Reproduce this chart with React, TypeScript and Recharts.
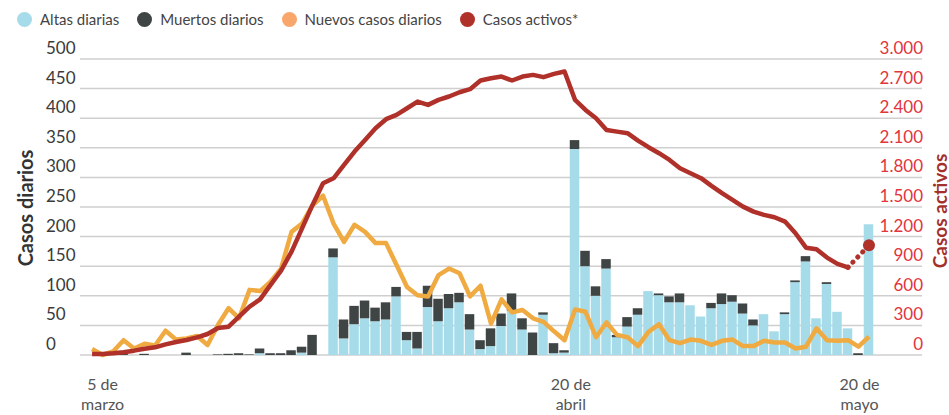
import React from "react";
import { ComposedChart, Bar, Line, XAxis, YAxis, CartesianGrid } from "recharts";

// one entry per day, starting on 5 March
const ALTAS = [
  0, 0, 0, 0, 0, 0, 0, 0, 0, 0, 0, 0, 0, 0, 0, 0, 3, 0, 0, 0, 4, 0, 0,
  165, 28, 52, 62, 57, 60, 99, 25, 11, 81, 57, 79, 89, 43, 10, 15, 49, 75, 43, 0, 68, 3, 4,
  348, 150, 100, 146, 30, 48, 68, 108, 101, 89, 89, 84, 65, 79, 86, 90, 70, 50, 69, 40, 69,
  123, 158, 62, 120, 73, 45, 0, 221,
];
const MUERTOS = [
  0, 0, 0, 2, 0, 2, 0, 0, 0, 4, 0, 0, 1, 2, 3, 1, 8, 3, 3, 8, 10, 34, 0,
  15, 32, 31, 30, 23, 29, 16, 14, 28, 36, 38, 24, 16, 26, 15, 30, 21, 29, 19, 38, 4, 17, 4,
  15, 26, 16, 16, 4, 16, 11, 0, 3, 10, 15, 0, 0, 9, 18, 11, 17, 10, 0, 0, 3,
  3, 9, 0, 3, 0, 0, 3, 0,
];
const NUEVOS = [
  10, 0, 6, 25, 11, 19, 16, 41, 26, 28, 32, 17, 51, 79, 62, 110, 108, 124, 146, 208, 222, 253, 269,
  222, 191, 220, 208, 189, 189, 152, 115, 101, 99, 135, 146, 138, 99, 117, 53, 94, 72, 76, 62, 56, 40, 25,
  77, 73, 30, 55, 34, 30, 15, 39, 52, 25, 20, 26, 24, 17, 24, 26, 15, 15, 24, 21, 21,
  11, 14, 45, 25, 24, 25, 14, 31,
];
const ACTIVOS = [
  10, 10, 17, 27, 44, 64, 78, 108, 132, 152, 179, 213, 274, 287, 389, 490, 564, 710, 855, 1048,
  1284, 1521, 1741, 1791, 1927, 2062, 2180, 2298, 2390, 2434, 2501, 2569, 2535, 2586, 2620, 2663,
  2694, 2782, 2805, 2822, 2782, 2822, 2839, 2816, 2849, 2873, 2586, 2484, 2400, 2281, 2264, 2248,
  2173, 2106, 2045, 1977, 1893, 1842, 1792, 1714, 1640, 1572, 1504, 1453, 1420, 1396, 1352, 1234,
  1088, 1072, 987, 923, 889,
];
// dotted stretch at the end of the active-cases line
const ACTIVOS_FIN_DIAS = [72, 74];
const ACTIVOS_FIN = [889, 1112];

// date labels sit roughly (not exactly) under their days in the original
const X_TICKS = [1, 45.6, 73.1];
const X_LABELS = [["5 de", "marzo"], ["20 de", "abril"], ["20 de", "mayo"]];
const LEFT_TICKS = [0, 50, 100, 150, 200, 250, 300, 350, 400, 450, 500];
const RIGHT_TICKS = [0, 300, 600, 900, 1200, 1500, 1800, 2100, 2400, 2700, 3000];

const C_ALTAS = "#a6dcea";
const C_MUERTOS = "#3f4445";
const C_NUEVOS = "#f0aa42";
const C_ACTIVOS = "#b0302a";
const FONT = "Lato, 'Open Sans', sans-serif";

const data = ALTAS.map((a, i) => {
  const fin = ACTIVOS_FIN_DIAS.indexOf(i);
  return {
    day: i,
    altas: a,
    muertos: MUERTOS[i],
    nuevos: NUEVOS[i],
    activos: i < ACTIVOS.length ? ACTIVOS[i] : null,
    activosFin: fin >= 0 ? ACTIVOS_FIN[fin] : null,
  };
});

const fmt = (v: number) => v.toLocaleString("de-DE");

const LeftTick = (props: any) => (
  <text x={props.x - 32} y={props.y - 5} textAnchor="start" fontSize={17} fill="#3a3a3a" fontFamily={FONT}>
    {props.payload.value}
  </text>
);

const RightTick = (props: any) => (
  <text x={props.x - 1} y={props.y - 5} textAnchor="end" fontSize={17} fill="#e2353c" fontFamily={FONT}>
    {fmt(props.payload.value)}
  </text>
);

const DateTick = (props: any) => {
  const idx = X_TICKS.indexOf(props.payload.value);
  const lines = X_LABELS[idx] ?? ["", ""];
  return (
    <text x={props.x} y={props.y + 33} textAnchor="middle" fontSize={16} fill="#555" fontFamily={FONT}>
      <tspan x={props.x}>{lines[0]}</tspan>
      <tspan x={props.x} dy={20}>{lines[1]}</tspan>
    </text>
  );
};

const FinDot = (props: any) => {
  const { cx, cy, index } = props;
  if (cx == null || cy == null || props.value == null) return <g key={index} />;
  const last = index === ACTIVOS_FIN_DIAS[ACTIVOS_FIN_DIAS.length - 1];
  return <circle key={index} cx={cx} cy={cy} r={last ? 6 : 2.5} fill={C_ACTIVOS} />;
};

const LEGEND = [
  { label: "Altas diarias", color: C_ALTAS },
  { label: "Muertos diarios", color: C_MUERTOS },
  { label: "Nuevos casos diarios", color: "#f8a66a" },
  { label: "Casos activos*", color: C_ACTIVOS },
];

export default function App() {
  return (
    <div style={{ position: "absolute", left: 0, top: 0, width: 949, height: 415, background: "#fff", fontFamily: FONT }}>
      <div style={{ position: "absolute", left: 17, top: 10, display: "flex", alignItems: "center", gap: 18 }}>
        {LEGEND.map((l) => (
          <div key={l.label} style={{ display: "flex", alignItems: "center", gap: 8 }}>
            <span style={{ width: 15, height: 15, borderRadius: "50%", background: l.color, display: "inline-block" }} />
            <span style={{ fontSize: 15, color: "#444" }}>{l.label}</span>
          </div>
        ))}
      </div>
      <div
        style={{
          position: "absolute", left: 25, top: 208, transform: "translate(-50%, -50%) rotate(-90deg)",
          whiteSpace: "nowrap", fontSize: 20, fontWeight: 700, color: "#333", lineHeight: "20px",
        }}
      >
        Casos diarios
      </div>
      <div
        style={{
          position: "absolute", left: 939, top: 211, transform: "translate(-50%, -50%) rotate(-90deg)",
          whiteSpace: "nowrap", fontSize: 19, fontWeight: 700, color: "#a3302a", lineHeight: "19px",
        }}
      >
        Casos activos
      </div>
      <ComposedChart
        width={949}
        height={415}
        data={data}
        margin={{ top: 59, right: 26, bottom: 59, left: 79 }}
        barGap={0}
      >
        <CartesianGrid vertical={false} stroke="#cfcfcf" strokeWidth={1.5} yAxisId="left" />
        <XAxis
          dataKey="day"
          type="number"
          domain={[-1.15, 79.05]}
          ticks={X_TICKS}
          height={1}
          axisLine={false}
          tickLine={false}
          tickSize={0}
          tick={DateTick}
          interval={0}
        />
        <YAxis
          yAxisId="left"
          domain={[0, 500]}
          ticks={LEFT_TICKS}
          width={1}
          axisLine={false}
          tickLine={false}
          tickSize={0}
          tick={LeftTick}
          interval={0}
        />
        <YAxis
          yAxisId="right"
          orientation="right"
          domain={[0, 3000]}
          ticks={RIGHT_TICKS}
          width={1}
          axisLine={false}
          tickLine={false}
          tickSize={0}
          tick={RightTick}
          interval={0}
        />
        <Bar yAxisId="left" dataKey="altas" stackId="d" fill={C_ALTAS} barSize={9.5} isAnimationActive={false} />
        <Bar yAxisId="left" dataKey="muertos" stackId="d" fill={C_MUERTOS} barSize={9.5} isAnimationActive={false} />
        <Line
          yAxisId="left"
          dataKey="nuevos"
          stroke={C_NUEVOS}
          strokeWidth={4.5}
          strokeLinejoin="round"
          dot={false}
          type="linear"
          isAnimationActive={false}
        />
        <Line
          yAxisId="right"
          dataKey="activos"
          stroke={C_ACTIVOS}
          strokeWidth={4.5}
          strokeLinejoin="round"
          dot={false}
          type="linear"
          isAnimationActive={false}
        />
        <Line
          yAxisId="right"
          dataKey="activosFin"
          stroke={C_ACTIVOS}
          strokeWidth={5}
          strokeLinecap="round"
          strokeDasharray="0.1 7"
          connectNulls
          dot={<FinDot />}
          type="linear"
          isAnimationActive={false}
        />
      </ComposedChart>
    </div>
  );
}
